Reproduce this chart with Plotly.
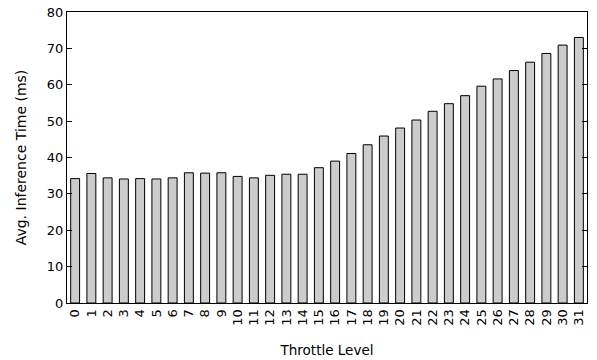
import plotly.graph_objects as go

levels = [str(i) for i in range(32)]
avg_time_ms = [34.2, 35.6, 34.4, 34.1, 34.2, 34.1, 34.4, 35.8, 35.7, 35.8,
               34.8, 34.4, 35.1, 35.4, 35.4, 37.2, 39.0, 41.1, 43.5, 45.9,
               48.1, 50.3, 52.7, 54.8, 57.0, 59.6, 61.6, 63.9, 66.2, 68.6,
               70.9, 73.0]
y_ticks = [0, 10, 20, 30, 40, 50, 60, 70, 80]

font = "DejaVu Sans"

fig = go.Figure(go.Bar(
    x=levels, y=avg_time_ms,
    marker=dict(color="#cccccc", line=dict(color="#000000", width=1)),
    width=0.55,
))

fig.update_layout(
    width=597, height=360,
    margin=dict(l=67, r=10, t=12, b=57),
    paper_bgcolor="white", plot_bgcolor="white",
    font=dict(family=font, size=13, color="black"),
    showlegend=False,
)
fig.update_xaxes(
    type="category", tickangle=-90, range=[-0.5, 31.5], automargin=False,
    showline=True, linecolor="black", linewidth=1, mirror=True,
    ticks="", showgrid=False,
    title=dict(text="Throttle Level", font=dict(size=13.5), standoff=20),
    tickfont=dict(size=13),
)
fig.update_yaxes(
    range=[0, 80], tickvals=y_ticks, automargin=False,
    showline=True, linecolor="black", linewidth=1, mirror="ticks",
    ticks="inside", ticklen=5, tickcolor="black", showgrid=False, zeroline=False,
    title=dict(text="Avg. Inference Time (ms)", font=dict(size=14), standoff=16),
    tickfont=dict(size=13),
)

fig.write_html("out.html")
